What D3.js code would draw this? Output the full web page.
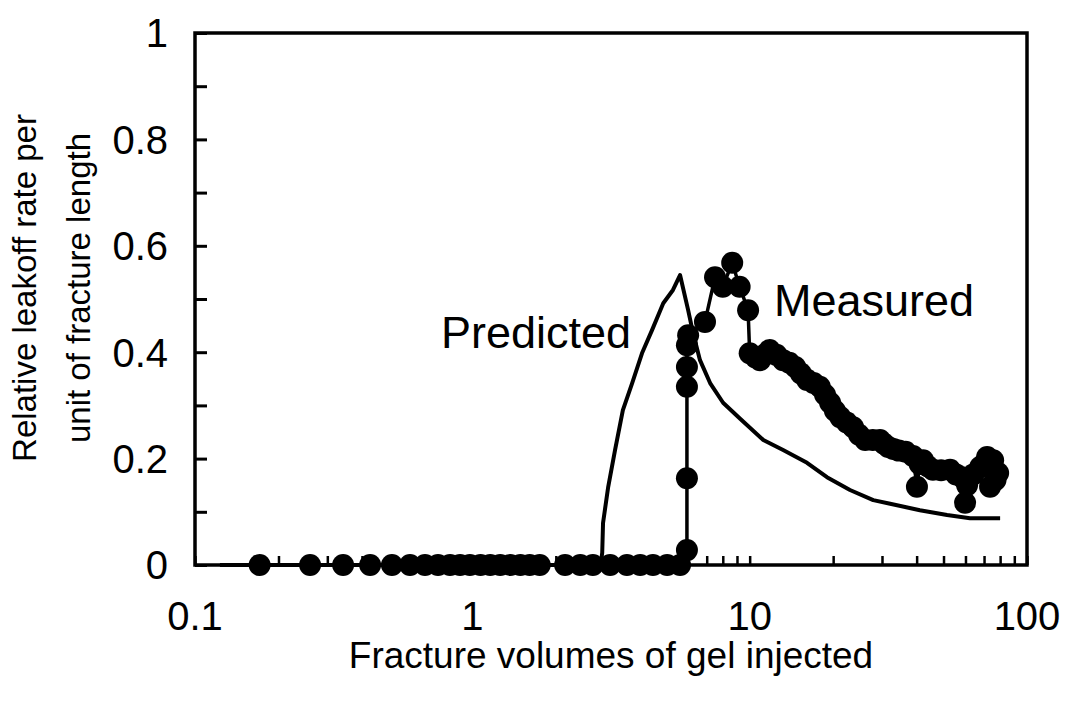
<!DOCTYPE html>
<html>
<head>
<meta charset="utf-8">
<script src="https://cdn.jsdelivr.net/npm/d3@7"></script>
<style>
  body { margin: 0; background: #fff; }
  text { font-family: "Liberation Sans", Arial, sans-serif; fill: #000; }
</style>
</head>
<body>
<div class="chart"></div>
<script>
// predicted curve (fracture volumes, relative leakoff rate)
const predX = [0.123, 2.90, 2.94, 2.96, 3.09, 3.27, 3.49, 3.77, 4.09, 4.45, 4.88, 5.29, 5.61,
  6.0, 6.25, 6.62, 7.2, 8.02, 9.24, 11.2, 13.2, 16.1, 19.0, 23.0, 27.9, 32.1, 41.1, 51.5, 62.3, 80.0];
const predY = [0, 0, 0.023, 0.079, 0.147, 0.216, 0.291, 0.342, 0.398, 0.442, 0.492, 0.517, 0.545,
  0.479, 0.436, 0.385, 0.342, 0.305, 0.275, 0.235, 0.216, 0.192, 0.165, 0.141, 0.122, 0.115, 0.103, 0.094, 0.088, 0.088];

// measured points
const measX = [0.171, 0.26, 0.342, 0.428, 0.513, 0.596, 0.675, 0.752, 0.831, 0.903, 0.98, 1.07, 1.16,
  1.26, 1.37, 1.49, 1.61, 1.75, 2.16, 2.45, 2.72, 3.14, 3.61, 4.03, 4.48, 5.04, 5.61,
  5.94, 5.94, 5.94, 5.94, 5.94, 6.0, 6.9, 7.5, 8.0, 8.65, 9.2, 9.87,
  10.0, 10.5, 10.9, 11.3, 11.8, 12.5, 13.2, 13.9, 14.6, 15.3, 16.1, 17.0, 17.9, 18.7, 19.5, 20.3,
  21.2, 22.4, 23.6, 24.8, 26.1, 27.8, 29.5, 30.5, 31.6, 33.0, 34.5, 36.5, 38.8, 40.1, 41.0, 42.2,
  44.0, 45.8, 49.0, 52.8, 55.5, 58.4, 59.8, 60.8, 64.0, 67.8, 70.0, 71.8, 73.6, 75.5, 77.0, 78.7];
const measY = [0, 0, 0, 0, 0, 0, 0, 0, 0, 0, 0, 0, 0,
  0, 0, 0, 0, 0, 0, 0, 0, 0, 0, 0, 0, 0, 0,
  0.028, 0.163, 0.335, 0.372, 0.413, 0.432, 0.457, 0.541, 0.523, 0.568, 0.523, 0.479,
  0.398, 0.39, 0.385, 0.395, 0.404, 0.395, 0.385, 0.38, 0.372, 0.36, 0.348, 0.342, 0.335, 0.32, 0.305, 0.29,
  0.278, 0.268, 0.259, 0.245, 0.235, 0.235, 0.235, 0.228, 0.222, 0.218, 0.215, 0.213, 0.205, 0.147, 0.19, 0.197,
  0.185, 0.179, 0.178, 0.179, 0.17, 0.165, 0.117, 0.15, 0.17, 0.184, 0.19, 0.203, 0.147, 0.197, 0.16, 0.173];

const xTickLabels = ["0.1", "1", "10", "100"];
const xTickVals = [0.1, 1, 10, 100];
const yTickLabels = ["0", "0.2", "0.4", "0.6", "0.8", "1"];
const yTickVals = [0, 0.2, 0.4, 0.6, 0.8, 1];

const width = 1069, height = 701;
const pLeft = 195, pRight = 1027, pTop = 33, pBottom = 565;

const x = d3.scaleLog().domain([0.1, 100]).range([pLeft, pRight]);
const y = d3.scaleLinear().domain([0, 1]).range([pBottom, pTop]);

const svg = d3.select(".chart").append("svg")
  .attr("width", width).attr("height", height);

// minor ticks
let minor = [];
[0.1, 1, 10].forEach(d => { for (let k = 1; k <= 9; k++) minor.push(d * k); });
minor.push(100);

const xAxis = d3.axisBottom(x).tickValues(minor).tickSizeInner(-9).tickSizeOuter(0).tickFormat("");
const gx = svg.append("g").attr("transform", `translate(0,${pBottom})`).call(xAxis);
gx.select(".domain").remove();
gx.selectAll("line").attr("stroke-width", 2.5);

const yAxis = d3.axisLeft(y).tickValues(d3.range(0, 1.01, 0.1)).tickSizeInner(-12).tickSizeOuter(0).tickFormat("");
const gy = svg.append("g").attr("transform", `translate(${pLeft},0)`).call(yAxis);
gy.select(".domain").remove();
gy.selectAll("line").attr("stroke-width", 3);

// frame
svg.append("rect")
  .attr("x", pLeft).attr("y", pTop)
  .attr("width", pRight - pLeft).attr("height", pBottom - pTop)
  .attr("fill", "none").attr("stroke", "#000").attr("stroke-width", 3.5);

// tick labels
svg.selectAll(".xl").data(xTickVals).enter().append("text")
  .attr("x", d => x(d)).attr("y", 630)
  .attr("text-anchor", "middle").style("font-size", "40px")
  .text((d, i) => xTickLabels[i]);

svg.selectAll(".yl").data(yTickVals).enter().append("text")
  .attr("x", 168).attr("y", d => y(d))
  .attr("dy", "0.36em")
  .attr("text-anchor", "end").style("font-size", "40px")
  .text((d, i) => yTickLabels[i]);

// predicted line
const pred = predX.map((d, i) => [d, predY[i]]);
svg.append("path").datum(pred)
  .attr("fill", "none").attr("stroke", "#000").attr("stroke-width", 4)
  .attr("stroke-linejoin", "round")
  .attr("d", d3.line().x(d => x(d[0])).y(d => y(d[1])));

// measured line + dots
const meas = measX.map((d, i) => [d, measY[i]]);
svg.append("path").datum(meas)
  .attr("fill", "none").attr("stroke", "#000").attr("stroke-width", 3.5)
  .attr("d", d3.line().x(d => x(d[0])).y(d => y(d[1])));

svg.selectAll(".dot").data(meas).enter().append("circle")
  .attr("cx", d => x(d[0])).attr("cy", d => y(d[1]))
  .attr("r", 11).attr("fill", "#000");

// labels
svg.append("text").attr("x", 631).attr("y", 348)
  .attr("text-anchor", "end").style("font-size", "45px").text("Predicted");
svg.append("text").attr("x", 774).attr("y", 316)
  .attr("text-anchor", "start").style("font-size", "45px").text("Measured");

svg.append("text").attr("x", (pLeft + pRight) / 2).attr("y", 668)
  .attr("text-anchor", "middle").style("font-size", "37px")
  .text("Fracture volumes of gel injected");

const yt = svg.append("text")
  .attr("transform", "translate(36,288) rotate(-90)")
  .attr("text-anchor", "middle").style("font-size", "33px");
yt.append("tspan").attr("x", 0).attr("y", 0).text("Relative leakoff rate per");
yt.append("tspan").attr("x", 0).attr("y", 54).text("unit of fracture length");
</script>
</body>
</html>
